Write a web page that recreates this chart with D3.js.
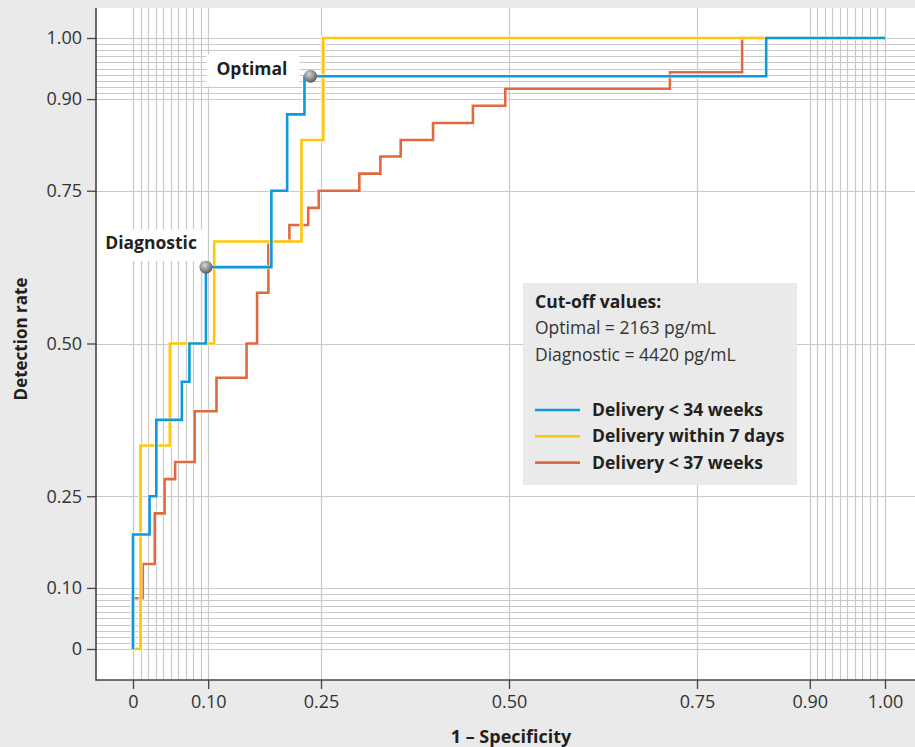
<!DOCTYPE html>
<html>
<head>
<meta charset="utf-8">
<script src="https://cdn.jsdelivr.net/npm/d3@7/dist/d3.min.js"></script>
<style>
    body { margin: 0; background: #e9eae9; }
    svg text { font-family: "Open Sans", sans-serif; fill: #231f20; }
</style>
</head>
<body>
<svg id="chart" width="915" height="747"></svg>
<script>

// axis ticks (same on both axes)
var tickValues = [0, 0.10, 0.25, 0.50, 0.75, 0.90, 1.00];
var tickLabels = ["0", "0.10", "0.25", "0.50", "0.75", "0.90", "1.00"];

// ROC curves (1 - specificity, detection rate)
var seriesNames = ["Delivery < 37 weeks", "Delivery within 7 days", "Delivery < 34 weeks"];
var seriesColors = ["#e06a3f", "#ffc708", "#0d9ad9"];

var fpr37 = [0, 0, 0.013, 0.029, 0.042, 0.056, 0.082, 0.111, 0.151, 0.165, 0.180, 0.208, 0.233, 0.247,
    0.301, 0.329, 0.356, 0.399, 0.452, 0.495, 0.714, 0.810, 1.0];
var tpr37 = [0, 0.083, 0.139, 0.222, 0.278, 0.306, 0.389, 0.444, 0.500, 0.583, 0.667, 0.694, 0.722, 0.750,
    0.778, 0.806, 0.833, 0.861, 0.889, 0.917, 0.944, 1.0, 1.0];

var fpr7d = [0, 0.010, 0.049, 0.108, 0.224, 0.253, 1.0];
var tpr7d = [0, 0.333, 0.500, 0.667, 0.833, 1.0, 1.0];

var fpr34 = [0, 0, 0.022, 0.031, 0.065, 0.075, 0.097, 0.184, 0.205, 0.228, 0.842, 1.0];
var tpr34 = [0, 0.1875, 0.250, 0.375, 0.4375, 0.500, 0.625, 0.750, 0.875, 0.9375, 1.0, 1.0];

// cut-off points on the < 34 weeks curve
var cutoffNames = ["Diagnostic", "Optimal"];
var cutoffFpr = [0.097, 0.236];
var cutoffTpr = [0.625, 0.9375];

var legendTitle = "Cut-off values:";
var legendLines = ["Optimal = 2163 pg/mL", "Diagnostic = 4420 pg/mL"];
var legendSeries = ["Delivery < 34 weeks", "Delivery within 7 days", "Delivery < 37 weeks"];
var legendColors = ["#0d9ad9", "#ffc708", "#e06a3f"];

var svg = d3.select("#chart");

var plotLeft = 96, plotRight = 915, plotTop = 8, plotBottom = 680;

var xScale = d3.scaleLinear().domain([0, 1]).range([133, 885]);
var yScale = d3.scaleLinear().domain([0, 1]).range([649, 38]);

// plot area
svg.append("rect")
    .attr("x", plotLeft)
    .attr("y", plotTop)
    .attr("width", plotRight - plotLeft)
    .attr("height", plotBottom - plotTop)
    .style("fill", "#ffffff");

// fine ROC grid
var gridValues = d3.range(0, 11).map(function(i) { return i / 100; })
    .concat([0.25, 0.50, 0.75])
    .concat(d3.range(90, 101).map(function(i) { return i / 100; }));

var grid = svg.append("g").attr("class", "grid");

grid.selectAll("line.h")
    .data(gridValues)
    .enter()
    .append("line")
    .attr("class", "h")
    .attr("x1", plotLeft)
    .attr("x2", plotRight)
    .attr("y1", function(d) { return Math.round(yScale(d)) + 0.5; })
    .attr("y2", function(d) { return Math.round(yScale(d)) + 0.5; })
    .style("stroke", "#c9c9c9")
    .style("stroke-width", 1.2);

grid.selectAll("line.v")
    .data(gridValues)
    .enter()
    .append("line")
    .attr("class", "v")
    .attr("y1", plotTop)
    .attr("y2", plotBottom)
    .attr("x1", function(d) { return Math.round(xScale(d)) + 0.5; })
    .attr("x2", function(d) { return Math.round(xScale(d)) + 0.5; })
    .style("stroke", "#c9c9c9")
    .style("stroke-width", 1.2);

// axes
var fmt = function(d) { return tickLabels[tickValues.indexOf(d)]; };

var yAxis = d3.axisLeft(yScale).tickValues(tickValues).tickFormat(fmt).tickSize(9).tickPadding(5);
var xAxis = d3.axisBottom(xScale).tickValues(tickValues).tickFormat(fmt).tickSize(9).tickPadding(6);

var gy = svg.append("g")
    .attr("transform", "translate(" + plotLeft + ",0)")
    .call(yAxis);

var gx = svg.append("g")
    .attr("transform", "translate(0," + plotBottom + ")")
    .call(xAxis);

[gx, gy].forEach(function(g) {
    g.select(".domain").remove();
    g.selectAll(".tick line").style("stroke", "#444").style("stroke-width", 1.3);
    g.selectAll(".tick text")
        .style("font-size", "18px")
        .style("fill", "#333")
        .style("font-family", "\"Open Sans\", sans-serif");
});

svg.append("line")
    .attr("x1", plotLeft).attr("x2", plotLeft)
    .attr("y1", plotTop).attr("y2", plotBottom + 0.7)
    .style("stroke", "#444").style("stroke-width", 1.6);

svg.append("line")
    .attr("x1", plotLeft).attr("x2", plotRight)
    .attr("y1", plotBottom).attr("y2", plotBottom)
    .style("stroke", "#444").style("stroke-width", 1.6);

// axis titles
svg.append("text")
    .attr("x", 511)
    .attr("y", 743)
    .attr("text-anchor", "middle")
    .style("font-size", "18px")
    .style("font-weight", "bold")
    .text("1 \u2013 Specificity");

svg.append("text")
    .attr("transform", "translate(27,339) rotate(-90)")
    .attr("text-anchor", "middle")
    .style("font-size", "17px")
    .style("font-weight", "bold")
    .text("Detection rate");

// curves
var line = d3.line()
    .x(function(d) { return xScale(d[0]); })
    .y(function(d) { return yScale(d[1]); })
    .curve(d3.curveStepAfter);

var seriesData = [d3.zip(fpr37, tpr37), d3.zip(fpr7d, tpr7d), d3.zip(fpr34, tpr34)];

seriesData.forEach(function(pts, i) {
    svg.append("path")
        .datum(pts)
        .attr("d", line)
        .style("fill", "none")
        .style("stroke", "#ffffff")
        .style("stroke-opacity", 0.6)
        .style("stroke-width", 4.5);
    svg.append("path")
        .datum(pts)
        .attr("d", line)
        .attr("class", "roc")
        .style("fill", "none")
        .style("stroke", seriesColors[i])
        .style("stroke-width", 2.6);
});

// cut-off markers
var defs = svg.append("defs");
var grad = defs.append("radialGradient")
    .attr("id", "ball")
    .attr("cx", "40%").attr("cy", "35%").attr("r", "65%");
grad.append("stop").attr("offset", "0%").attr("stop-color", "#d6d6d6");
grad.append("stop").attr("offset", "60%").attr("stop-color", "#8e8e8e");
grad.append("stop").attr("offset", "100%").attr("stop-color", "#5e5e5e");

// text offset from the dot, then box padding [left, right, above baseline, below baseline]
var labelOffsets = [[-9, -18], [-23, -1]];
var labelPads = [[6, 5, 20, 12], [10, 12, 21, 11]];

cutoffNames.forEach(function(name, i) {
    var cx = xScale(cutoffFpr[i]), cy = yScale(cutoffTpr[i]);
    var tx = cx + labelOffsets[i][0], ty = cy + labelOffsets[i][1];
    var lg = svg.append("g");
    var bg = lg.append("rect").style("fill", "#ffffff");
    var t = lg.append("text")
        .attr("x", tx)
        .attr("y", ty)
        .attr("text-anchor", "end")
        .style("font-size", "17.5px")
        .style("font-weight", "bold")
        .text(name);
    var bb = t.node().getBBox();
    var p = labelPads[i];
    bg.attr("x", bb.x - p[0])
        .attr("y", ty - p[2])
        .attr("width", bb.width + p[0] + p[1])
        .attr("height", p[2] + p[3]);

    svg.append("circle")
        .attr("cx", cx)
        .attr("cy", cy)
        .attr("r", 6.5)
        .style("fill", "url(#ball)");
});

// legend box
var lg = svg.append("g").attr("transform", "translate(523,283)");
lg.append("rect")
    .attr("width", 274)
    .attr("height", 202)
    .style("fill", "#e9eae9");

lg.append("text")
    .attr("x", 12).attr("y", 25)
    .style("font-size", "17.5px")
    .style("font-weight", "bold")
    .text(legendTitle);

lg.selectAll("text.cut")
    .data(legendLines)
    .enter()
    .append("text")
    .attr("class", "cut")
    .attr("x", 12)
    .attr("y", function(d, i) { return 51 + i * 27; })
    .style("font-size", "17.5px")
    .style("fill", "#333")
    .text(function(d) { return d; });

var items = lg.selectAll("g.item")
    .data(legendSeries)
    .enter()
    .append("g")
    .attr("class", "item")
    .attr("transform", function(d, i) { return "translate(0," + (127 + i * 26.3) + ")"; });

items.append("line")
    .attr("x1", 12).attr("x2", 57)
    .style("stroke", function(d, i) { return legendColors[i]; })
    .style("stroke-width", 2.6);

items.append("text")
    .attr("x", 69)
    .attr("y", 6)
    .style("font-size", "17.5px")
    .style("font-weight", "bold")
    .text(function(d) { return d; });

</script>
</body>
</html>
